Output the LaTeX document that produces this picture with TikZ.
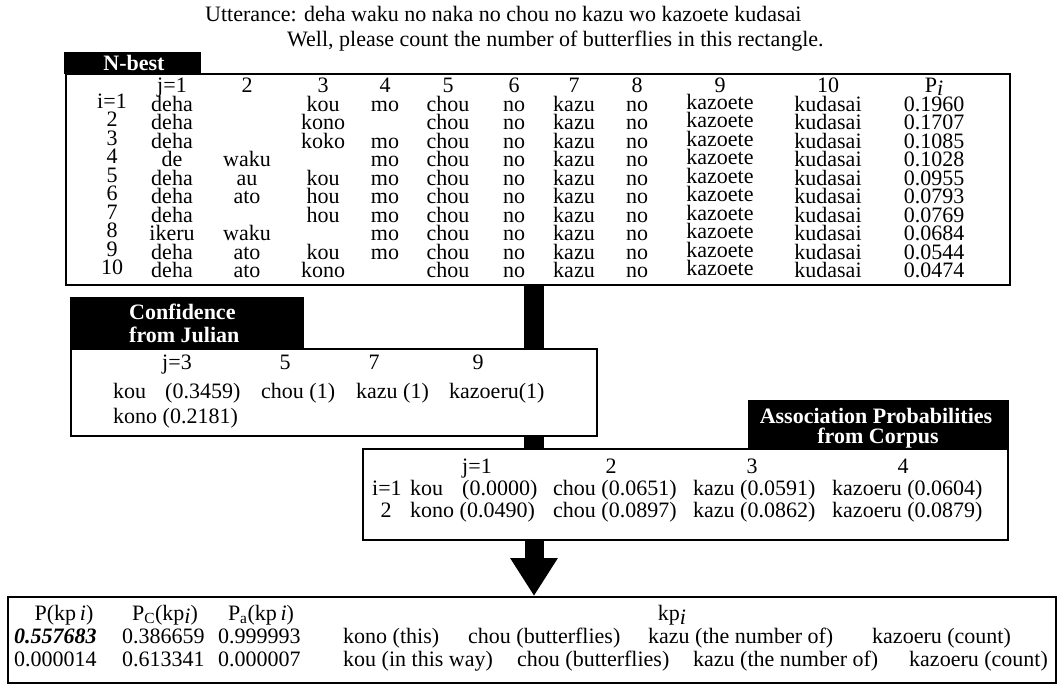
\documentclass[tikz,border=0pt]{standalone}
\usepackage{fontspec}
\setmainfont{Liberation Serif}
\usetikzlibrary{arrows.meta}
\pgfdeclarelayer{bg}
\pgfsetlayers{bg,main}
\begin{document}
\begin{tikzpicture}[x=1pt,y=-1pt,
  every node/.style={font=\fontsize{22}{22}\selectfont, inner sep=0pt},
  box/.style={draw=black, fill=white, line width=2pt, anchor=north west, inner sep=0pt},
  tabbox/.style={fill=black, draw=black, line width=1pt, anchor=north west, inner sep=0pt},
  tabtext/.style={text=white, anchor=base, font=\fontsize{22}{20}\selectfont\bfseries},
  txt/.style={anchor=base},
  txtl/.style={anchor=base west},
  bar/.style={line width=20pt},
  bigarrow/.style={line width=19pt, -{Triangle[length=38pt,width=45pt]}},
]
\useasboundingbox (0,0) rectangle (1064,688);

% title
\node[txtl] (utt) at (205,21) {Utterance: deha waku no naka no chou no kazu wo kazoete kudasai};
\node[txtl] (trans) at (287,46) {Well, please count the number of butterflies in this rectangle.};

% boxes
\node[box, minimum width=944pt, minimum height=211pt] (nbest) at (65,73) {};
\node[tabbox, minimum width=136pt, minimum height=21pt] (nbtab) at (64,52) {};
\node[tabtext] (nbtabt) at (134,70) {N-best};

\node[tabbox, minimum width=233pt, minimum height=51pt] (conftab) at (70,297) {};
\node[box, minimum width=526pt, minimum height=87pt] (conf) at (70,348) {};
\node[tabtext, anchor=base west] (conft1) at (129,319) {Confidence};
\node[tabtext, anchor=base west] (conft2) at (129,342) {from Julian};

\node[tabbox, minimum width=260pt, minimum height=49pt] (assoctab) at (748,400) {};
\node[box, minimum width=645pt, minimum height=91pt] (assoc) at (362,448) {};
\node[tabtext] (assoct1) at (876,423) {Association Probabilities};
\node[tabtext] (assoct2) at (878,443) {from Corpus};

\node[box, minimum width=1048pt, minimum height=86pt] (result) at (7,596) {};

% connectors
\coordinate (barx) at (534,0);
\begin{pgfonlayer}{bg}
\draw[bar] (nbest.south -| barx) -- (assoc.north -| barx);
\end{pgfonlayer}
\draw[bigarrow] (assoc.south -| barx) -- (result.north -| barx);

% N-best table
\def\nbcols{{172,247,323,385,448,514,574,637,720,828,934}}
\foreach \h [count=\c] in {j=1,2,3,4,5,6,7,8,9,10,{P\raisebox{-3pt}{\itshape i}}} {
  \pgfmathsetmacro\xx{\nbcols[\c-1]}
  \node[txt] (nbh\c) at (\xx,92) {\h};
}
\foreach \lab/\ws [count=\r] in {
  {i=1}/{deha,,kou,mo,chou,no,kazu,no,kazoete,kudasai,0.1960},
  {2}/{deha,,kono,,chou,no,kazu,no,kazoete,kudasai,0.1707},
  {3}/{deha,,koko,mo,chou,no,kazu,no,kazoete,kudasai,0.1085},
  {4}/{de,waku,,mo,chou,no,kazu,no,kazoete,kudasai,0.1028},
  {5}/{deha,au,kou,mo,chou,no,kazu,no,kazoete,kudasai,0.0955},
  {6}/{deha,ato,hou,mo,chou,no,kazu,no,kazoete,kudasai,0.0793},
  {7}/{deha,,hou,mo,chou,no,kazu,no,kazoete,kudasai,0.0769},
  {8}/{ikeru,waku,,mo,chou,no,kazu,no,kazoete,kudasai,0.0684},
  {9}/{deha,ato,kou,mo,chou,no,kazu,no,kazoete,kudasai,0.0544},
  {10}/{deha,ato,kono,,chou,no,kazu,no,kazoete,kudasai,0.0474}} {
  \pgfmathsetmacro\yy{111+18.5*(\r-1)}
  \node[txt] (nbl\r) at (112,\yy-3) {\lab};
  \foreach \w [count=\c] in \ws {
    \pgfmathsetmacro\xx{\nbcols[\c-1]}
    \pgfmathsetmacro\dy{(\c==9)?-2:0}
    \node[txt] (nb\r-\c) at (\xx,\yy+\dy) {\w};
  }
}

% confidence table
\node[txt] (ch1) at (177,369) {j=3};
\node[txt] (ch2) at (285,369) {5};
\node[txt] (ch3) at (374,369) {7};
\node[txt] (ch4) at (478,369) {9};
\node[txtl] (c11) at (113,398) {kou};
\node[txtl] (c12) at (165,398) {(0.3459)};
\node[txtl] (c13) at (261,398) {chou (1)};
\node[txtl] (c14) at (356,398) {kazu (1)};
\node[txtl] (c15) at (449,398) {kazoeru(1)};
\node[txtl] (c21) at (113,423) {kono (0.2181)};

% association table
\node[txt] (ah1) at (477,473) {j=1};
\node[txt] (ah2) at (611,473) {2};
\node[txt] (ah3) at (752,473) {3};
\node[txt] (ah4) at (903,473) {4};
\node[txtl] (a10) at (372,495) {i=1};
\node[txtl] (a11) at (410,495) {kou};
\node[txtl] (a12) at (462,495) {(0.0000)};
\node[txtl] (a13) at (553,495) {chou (0.0651)};
\node[txtl] (a14) at (693,495) {kazu (0.0591)};
\node[txtl] (a15) at (832,495) {kazoeru (0.0604)};
\node[txt] (a20) at (386,517) {2};
\node[txtl] (a21) at (410,517) {kono (0.0490)};
\node[txtl] (a23) at (553,517) {chou (0.0897)};
\node[txtl] (a24) at (693,517) {kazu (0.0862)};
\node[txtl] (a25) at (832,517) {kazoeru (0.0879)};

% result table
\node[txt] (rh1) at (64,620) {P(kp\,\textit{i})};
\node[txt] (rh2) at (165,620) {P\textsubscript{C}(kp\raisebox{-3pt}{\itshape i})};
\node[txt] (rh3) at (261,620) {P\textsubscript{a}(kp\,\textit{i})};
\node[txt] (rh4) at (672,620) {kp\raisebox{-4pt}{\itshape i}};
\node[txtl] (r11) at (14,643) {\textbf{\textit{0.557683}}};
\node[txtl] (r12) at (122,643) {0.386659};
\node[txtl] (r13) at (218,643) {0.999993};
\node[txtl] (r14) at (343,643) {kono (this)};
\node[txtl] (r15) at (468,643) {chou (butterflies)};
\node[txtl] (r16) at (648,643) {kazu (the number of)};
\node[txtl] (r17) at (872,643) {kazoeru (count)};
\node[txtl] (r21) at (14,666) {0.000014};
\node[txtl] (r22) at (122,666) {0.613341};
\node[txtl] (r23) at (218,666) {0.000007};
\node[txtl] (r24) at (343,666) {kou (in this way)};
\node[txtl] (r25) at (517,666) {chou (butterflies)};
\node[txtl] (r26) at (693,666) {kazu (the number of)};
\node[txtl] (r27) at (909,666) {kazoeru (count)};
\end{tikzpicture}
\end{document}
